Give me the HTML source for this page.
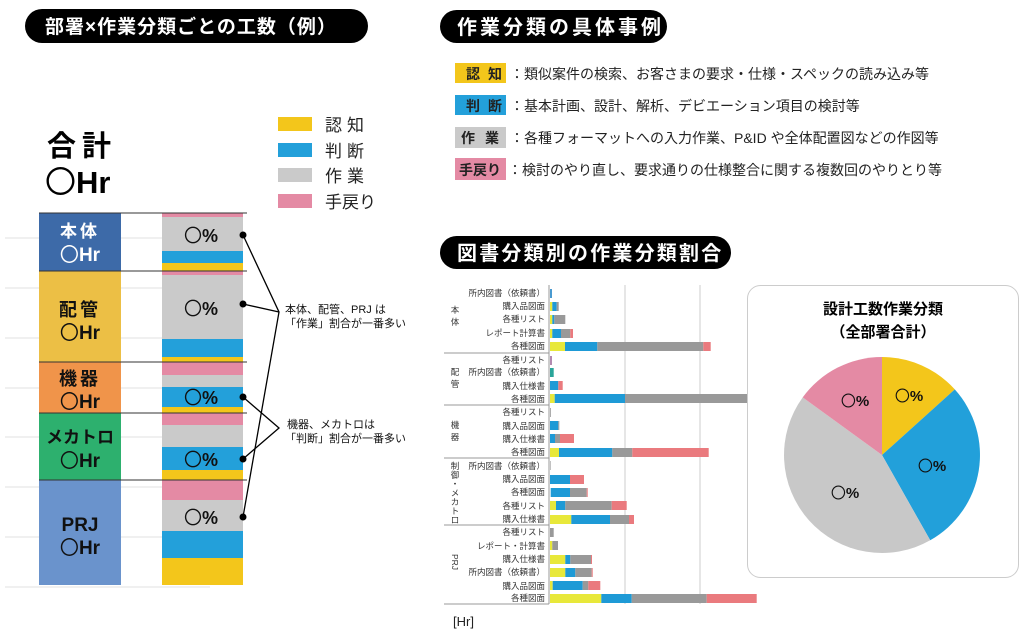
<!DOCTYPE html>
<html><head><meta charset="utf-8"><style>
body{margin:0;background:#fff;}
svg{display:block;font-family:"Liberation Sans","Noto Sans CJK JP",sans-serif;}
.c{font-family:"Noto Sans CJK JP",sans-serif;font-weight:normal;}
</style></head><body>
<svg width="1030" height="639" viewBox="0 0 1030 639" xmlns="http://www.w3.org/2000/svg">
<rect x="25" y="9" width="343" height="34" rx="17" fill="#000"/>
<text x="45" y="33" font-size="19" font-weight="bold" fill="#fff" letter-spacing="1">部署×作業分類ごとの工数（例）</text>
<rect x="440" y="10" width="227" height="33" rx="16.5" fill="#000"/>
<text x="457" y="34" font-size="20" font-weight="bold" fill="#fff" letter-spacing="3">作業分類の具体事例</text>
<rect x="440" y="236" width="291" height="33" rx="16.5" fill="#000"/>
<text x="457" y="260" font-size="20" font-weight="bold" fill="#fff" letter-spacing="2.2">図書分類別の作業分類割合</text>

<g font-size="14" fill="#222">
<rect x="455" y="63" width="51" height="20" fill="#f3c61b"/><text x="466" y="79" font-weight="bold" letter-spacing="8">認知</text>
<text x="510" y="79">：類似案件の検索、お客さまの要求・仕様・スペックの読み込み等</text>
<rect x="455" y="95" width="51" height="20" fill="#23a0da"/><text x="466" y="111" font-weight="bold" letter-spacing="8">判断</text>
<text x="510" y="111">：基本計画、設計、解析、デビエーション項目の検討等</text>
<rect x="455" y="127" width="51" height="21" fill="#cacaca"/><text x="461" y="143" font-weight="bold" letter-spacing="10">作業</text>
<text x="510" y="143">：各種フォーマットへの入力作業、P&amp;ID や全体配置図などの作図等</text>
<rect x="455" y="158" width="51" height="22" fill="#e48aa4"/><text x="459" y="175" font-weight="bold">手戻り</text>
<text x="508" y="175">：検討のやり直し、要求通りの仕様整合に関する複数回のやりとり等</text>
</g>

<text x="47" y="156" font-size="29" font-weight="bold" letter-spacing="6">合計</text>
<text x="45" y="193" font-size="31" font-weight="bold"><tspan class="c">〇</tspan>Hr</text>
<g font-size="17" fill="#222">
<rect x="278" y="117" width="34" height="14" fill="#f3c61b"/><text x="325" y="131" letter-spacing="5">認知</text>
<rect x="278" y="143" width="34" height="14" fill="#23a0da"/><text x="325" y="157" letter-spacing="5">判断</text>
<rect x="278" y="168" width="34" height="14" fill="#cacaca"/><text x="325" y="182" letter-spacing="5">作業</text>
<rect x="278" y="194" width="34" height="14" fill="#e48aa4"/><text x="325" y="208">手戻り</text>
</g>
<g stroke="#e2e2e2" stroke-width="1">
<line x1="5" y1="238" x2="162" y2="238"/><line x1="5" y1="288" x2="162" y2="288"/>
<line x1="5" y1="338" x2="162" y2="338"/><line x1="5" y1="388" x2="162" y2="388"/>
<line x1="5" y1="437" x2="162" y2="437"/><line x1="5" y1="487" x2="162" y2="487"/>
<line x1="5" y1="537" x2="162" y2="537"/><line x1="5" y1="587" x2="210" y2="587"/>
</g>
<rect x="39" y="213" width="82" height="58" fill="#3d6aa8"/>
<rect x="39" y="271" width="82" height="91" fill="#ecbf45"/>
<rect x="39" y="362" width="82" height="51" fill="#f0944a"/>
<rect x="39" y="413" width="82" height="67" fill="#2db06e"/>
<rect x="39" y="480" width="82" height="105" fill="#6a93cc"/>
<g font-weight="bold" text-anchor="middle">
<text x="80" y="237" font-size="17" fill="#fff" letter-spacing="3">本体</text>
<text x="80" y="261" font-size="19" fill="#fff"><tspan class="c">〇</tspan>Hr</text>
<text x="80" y="316" font-size="18" fill="#111" letter-spacing="3">配管</text>
<text x="80" y="339" font-size="19" fill="#111"><tspan class="c">〇</tspan>Hr</text>
<text x="80" y="385" font-size="18" fill="#111" letter-spacing="3">機器</text>
<text x="80" y="408" font-size="19" fill="#111"><tspan class="c">〇</tspan>Hr</text>
<text x="80" y="443" font-size="17" fill="#111">メカトロ</text>
<text x="80" y="467" font-size="19" fill="#111"><tspan class="c">〇</tspan>Hr</text>
<text x="80" y="531" font-size="19" fill="#111">PRJ</text>
<text x="80" y="554" font-size="19" fill="#111"><tspan class="c">〇</tspan>Hr</text>
</g>
<g>
<rect x="162" y="213" width="81" height="4" fill="#e48aa4"/><rect x="162" y="217" width="81" height="34" fill="#cacaca"/><rect x="162" y="251" width="81" height="12" fill="#23a0da"/><rect x="162" y="263" width="81" height="8" fill="#f3c61b"/>
<rect x="162" y="271" width="81" height="4" fill="#e48aa4"/><rect x="162" y="275" width="81" height="64" fill="#cacaca"/><rect x="162" y="339" width="81" height="18" fill="#23a0da"/><rect x="162" y="357" width="81" height="5" fill="#f3c61b"/>
<rect x="162" y="362" width="81" height="13" fill="#e48aa4"/><rect x="162" y="375" width="81" height="12" fill="#cacaca"/><rect x="162" y="387" width="81" height="20" fill="#23a0da"/><rect x="162" y="407" width="81" height="6" fill="#f3c61b"/>
<rect x="162" y="413" width="81" height="12" fill="#e48aa4"/><rect x="162" y="425" width="81" height="22" fill="#cacaca"/><rect x="162" y="447" width="81" height="23" fill="#23a0da"/><rect x="162" y="470" width="81" height="10" fill="#f3c61b"/>
<rect x="162" y="480" width="81" height="20" fill="#e48aa4"/><rect x="162" y="500" width="81" height="31" fill="#cacaca"/><rect x="162" y="531" width="81" height="27" fill="#23a0da"/><rect x="162" y="558" width="81" height="27" fill="#f3c61b"/>
</g>
<g stroke="#333" stroke-width="1">
<line x1="39" y1="213" x2="247" y2="213"/><line x1="39" y1="271" x2="247" y2="271"/>
<line x1="39" y1="362" x2="247" y2="362"/><line x1="39" y1="413" x2="247" y2="413"/>
<line x1="39" y1="480" x2="247" y2="480"/>
</g>
<g font-size="18" font-weight="bold" text-anchor="middle" fill="#111">
<text x="201" y="242"><tspan class="c">〇</tspan>%</text><text x="201" y="315"><tspan class="c">〇</tspan>%</text><text x="201" y="404"><tspan class="c">〇</tspan>%</text>
<text x="201" y="466"><tspan class="c">〇</tspan>%</text><text x="201" y="524"><tspan class="c">〇</tspan>%</text>
</g>
<g fill="#000"><circle cx="243" cy="235" r="3.5"/><circle cx="243" cy="304" r="3.5"/><circle cx="243" cy="397" r="3.5"/><circle cx="243" cy="459" r="3.5"/><circle cx="243" cy="517" r="3.5"/></g>
<g stroke="#000" stroke-width="1.3" fill="none">
<polyline points="243,235 279,312 243,517"/><line x1="243" y1="304" x2="279" y2="312"/>
<polyline points="243,397 279,428 243,459"/>
</g>
<g font-size="11" fill="#111">
<text x="285" y="313">本体、配管、PRJ は</text><text x="285" y="327">「作業」割合が一番多い</text>
<text x="287" y="428">機器、メカトロは</text><text x="285" y="442">「判断」割合が一番多い</text>
</g>

<g stroke="#ccc" stroke-width="1"><line x1="625" y1="285" x2="625" y2="604"/><line x1="700" y1="285" x2="700" y2="604"/></g>
<g stroke="#999" stroke-width="1">
<line x1="549" y1="285" x2="549" y2="604"/><line x1="444" y1="604" x2="549" y2="604"/>
<line x1="444" y1="353" x2="549" y2="353"/><line x1="444" y1="405" x2="549" y2="405"/>
<line x1="444" y1="458" x2="549" y2="458"/><line x1="444" y1="525" x2="549" y2="525"/>
</g>
<g font-size="8.5" fill="#333" text-anchor="end">
<text x="545" y="296">所内図書（依頼書）</text><text x="545" y="309">購入品図面</text><text x="545" y="322">各種リスト</text><text x="545" y="336">レポート計算書</text><text x="545" y="349">各種図面</text>
<text x="545" y="363">各種リスト</text><text x="545" y="375">所内図書（依頼書）</text><text x="545" y="389">購入仕様書</text><text x="545" y="402">各種図面</text>
<text x="545" y="415">各種リスト</text><text x="545" y="429">購入品図面</text><text x="545" y="442">購入仕様書</text><text x="545" y="455">各種図面</text>
<text x="545" y="469">所内図書（依頼書）</text><text x="545" y="482">購入品図面</text><text x="545" y="495">各種図面</text><text x="545" y="509">各種リスト</text><text x="545" y="522">購入仕様書</text>
<text x="545" y="535">各種リスト</text><text x="545" y="549">レポート・計算書</text><text x="545" y="562">購入仕様書</text><text x="545" y="575">所内図書（依頼書）</text><text x="545" y="589">購入品図面</text><text x="545" y="601">各種図面</text>
</g>
<g font-size="8.5" fill="#333" text-anchor="middle">
<text x="455" y="313">本</text><text x="455" y="325">体</text>
<text x="455" y="375">配</text><text x="455" y="387">管</text>
<text x="455" y="428">機</text><text x="455" y="440">器</text>
<text x="455" y="469">制</text><text x="455" y="478">御</text><text x="455" y="487">・</text><text x="455" y="496">メ</text><text x="455" y="505">カ</text><text x="455" y="514">ト</text><text x="455" y="523">ロ</text>
<text x="455" y="565" transform="rotate(90 455 562)">PRJ</text>
</g>
<g>
<rect x="550" y="289" width="2" height="9" fill="#4a9ad0"/>
<rect x="550" y="302" width="2.3" height="9" fill="#e8e83a"/><rect x="552.3" y="302" width="4.4" height="9" fill="#1e9ad6"/><rect x="556.7" y="302" width="2" height="9" fill="#999"/>
<rect x="550" y="315" width="2.3" height="9" fill="#e8e83a"/><rect x="552.3" y="315" width="2" height="9" fill="#1e9ad6"/><rect x="554.3" y="315" width="11" height="9" fill="#999"/>
<rect x="550" y="329" width="2.3" height="9" fill="#e8e83a"/><rect x="552.3" y="329" width="8.7" height="9" fill="#1e9ad6"/><rect x="561" y="329" width="9.3" height="9" fill="#999"/><rect x="570.3" y="329" width="2.7" height="9" fill="#ea7a7e"/>
<rect x="550" y="342" width="15" height="9" fill="#e8e83a"/><rect x="565" y="342" width="32.3" height="9" fill="#1e9ad6"/><rect x="597.3" y="342" width="106" height="9" fill="#999"/><rect x="703.3" y="342" width="7.4" height="9" fill="#ea7a7e"/>
<rect x="550" y="356" width="2" height="9" fill="#b38ab0"/>
<rect x="550" y="368" width="3.7" height="9" fill="#2aa59a"/>
<rect x="550" y="381" width="8.3" height="9" fill="#1e9ad6"/><rect x="558.3" y="381" width="4.4" height="9" fill="#ea7a7e"/>
<rect x="550" y="394" width="4.7" height="9" fill="#e8e83a"/><rect x="554.7" y="394" width="70.3" height="9" fill="#1e9ad6"/><rect x="625" y="394" width="122" height="9" fill="#999"/>
<rect x="550" y="408" width="0.8" height="9" fill="#999"/>
<rect x="550" y="421" width="8.3" height="9" fill="#1e9ad6"/><rect x="558.3" y="421" width="1" height="9" fill="#999"/>
<rect x="550" y="434" width="5" height="9" fill="#1e9ad6"/><rect x="555" y="434" width="5" height="9" fill="#999"/><rect x="560" y="434" width="14" height="9" fill="#ea7a7e"/>
<rect x="550" y="448" width="9" height="9" fill="#e8e83a"/><rect x="559" y="448" width="53.3" height="9" fill="#1e9ad6"/><rect x="612.3" y="448" width="20" height="9" fill="#999"/><rect x="632.3" y="448" width="76.4" height="9" fill="#ea7a7e"/>
<rect x="550" y="461" width="0.6" height="9" fill="#999"/>
<rect x="550" y="475" width="20" height="9" fill="#1e9ad6"/><rect x="570" y="475" width="14" height="9" fill="#ea7a7e"/>
<rect x="550.7" y="488" width="19.3" height="9" fill="#1e9ad6"/><rect x="570" y="488" width="16.7" height="9" fill="#999"/><rect x="586.7" y="488" width="1" height="9" fill="#ea7a7e"/>
<rect x="550" y="501" width="6" height="9" fill="#e8e83a"/><rect x="556" y="501" width="9.3" height="9" fill="#1e9ad6"/><rect x="565.3" y="501" width="46.4" height="9" fill="#999"/><rect x="611.7" y="501" width="15" height="9" fill="#ea7a7e"/>
<rect x="550" y="515" width="21.3" height="9" fill="#e8e83a"/><rect x="571.3" y="515" width="38.7" height="9" fill="#1e9ad6"/><rect x="610" y="515" width="19" height="9" fill="#999"/><rect x="629" y="515" width="5" height="9" fill="#ea7a7e"/>
<rect x="550" y="528" width="3.7" height="9" fill="#999"/>
<rect x="550" y="541" width="2.3" height="9" fill="#e8e83a"/><rect x="552.3" y="541" width="5.7" height="9" fill="#999"/>
<rect x="550" y="555" width="15.3" height="9" fill="#e8e83a"/><rect x="565.3" y="555" width="5" height="9" fill="#1e9ad6"/><rect x="570.3" y="555" width="20.7" height="9" fill="#999"/><rect x="591" y="555" width="1" height="9" fill="#ea7a7e"/>
<rect x="550" y="568" width="15.3" height="9" fill="#e8e83a"/><rect x="565.3" y="568" width="10" height="9" fill="#1e9ad6"/><rect x="575.3" y="568" width="16.4" height="9" fill="#999"/><rect x="591.7" y="568" width="1" height="9" fill="#ea7a7e"/>
<rect x="550" y="581" width="2.7" height="9" fill="#e8e83a"/><rect x="552.7" y="581" width="30" height="9" fill="#1e9ad6"/><rect x="582.7" y="581" width="5.6" height="9" fill="#999"/><rect x="588.3" y="581" width="12" height="9" fill="#ea7a7e"/>
<rect x="550" y="594" width="51.3" height="9" fill="#e8e83a"/><rect x="601.3" y="594" width="30.4" height="9" fill="#1e9ad6"/><rect x="631.7" y="594" width="75" height="9" fill="#999"/><rect x="706.7" y="594" width="50" height="9" fill="#ea7a7e"/>
</g>
<text x="453" y="626" font-size="13" fill="#222">[Hr]</text>

<rect x="747.5" y="285.5" width="271" height="292" rx="13" fill="#fff" stroke="#ccc"/>
<text x="883" y="314" font-size="15" font-weight="bold" text-anchor="middle">設計工数作業分類</text>
<text x="883" y="337" font-size="15" font-weight="bold" text-anchor="middle">（全部署合計）</text>
<g transform="translate(882,455)">
<path d="M0,0 L0,-98 A98,98 0 0 1 72.8,-65.6 Z" fill="#f3c61b"/>
<path d="M0,0 L72.8,-65.6 A98,98 0 0 1 48.2,85.3 Z" fill="#22a0da"/>
<path d="M0,0 L48.2,85.3 A98,98 0 0 1 -79.3,-57.6 Z" fill="#c8c8c8"/>
<path d="M0,0 L-79.3,-57.6 A98,98 0 0 1 0,-98 Z" fill="#e48aa4"/>
</g>
<g font-size="15" font-weight="bold" text-anchor="middle" fill="#111">
<text x="909" y="401"><tspan class="c">〇</tspan>%</text><text x="932" y="471"><tspan class="c">〇</tspan>%</text>
<text x="845" y="498"><tspan class="c">〇</tspan>%</text><text x="855" y="406"><tspan class="c">〇</tspan>%</text>
</g>
</svg>
</body></html>
